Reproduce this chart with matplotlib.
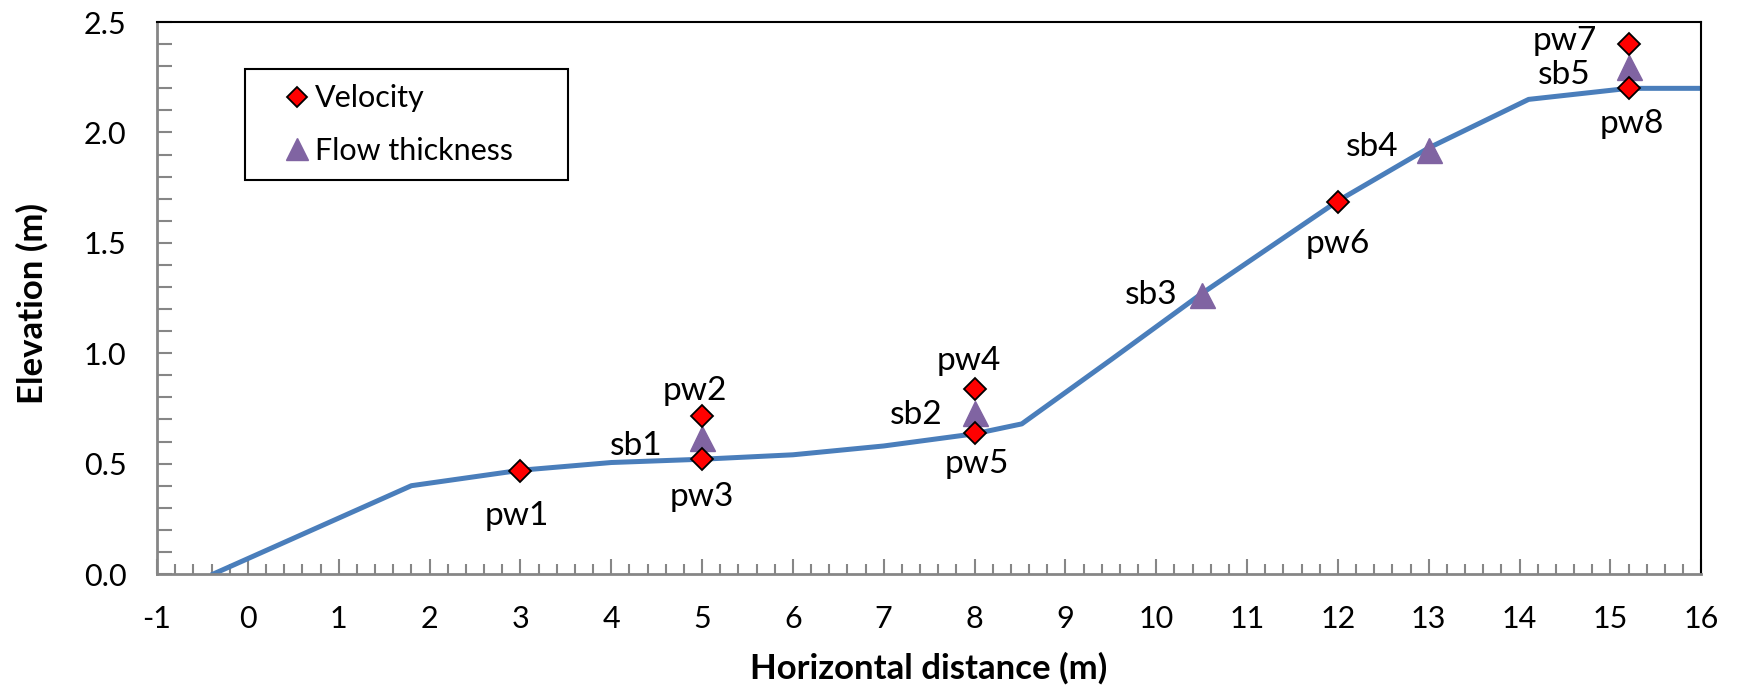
import matplotlib
matplotlib.use('Agg')
import matplotlib.pyplot as plt
from matplotlib.ticker import MultipleLocator, FormatStrFormatter

plt.rcParams['font.family'] = ['Lato', 'DejaVu Sans']
plt.rcParams['axes.unicode_minus'] = False

# ground profile
profile_x = [-0.38, 1.8, 3, 4, 5, 6, 7, 8, 8.52, 9.5, 10.5, 11, 12, 13, 14.1, 15.2, 16]
profile_y = [0.0, 0.40, 0.47, 0.505, 0.52, 0.54, 0.58, 0.635, 0.68, 0.97, 1.27, 1.41, 1.69, 1.93, 2.15, 2.20, 2.20]

# velocity points
vel_names = ['pw1', 'pw2', 'pw3', 'pw4', 'pw5', 'pw6', 'pw7', 'pw8']
vel_x = [3, 5, 5, 8, 8, 12, 15.2, 15.2]
vel_y = [0.467, 0.715, 0.522, 0.836, 0.638, 1.687, 2.40, 2.20]

# flow thickness points
thk_names = ['sb1', 'sb2', 'sb3', 'sb4', 'sb5']
thk_x = [5, 8, 10.5, 13, 15.2]
thk_y = [0.615, 0.73, 1.265, 1.92, 2.295]

# label offsets in pixels
vel_off = [(-4, -45), (-7, 25), (0, -38), (-6, 28), (2, -31), (0, -42), (-64, 3), (3, -36)]
thk_off = [(-66, -8), (-58, -2), (-50, 0), (-57, 3), (-64, -8)]

fig = plt.figure(figsize=(17.37, 6.89), dpi=100)
ax = fig.add_axes([0.0904, 0.1669, 0.889, 0.801])

ax.plot(profile_x, profile_y, color='#4a7ebb', linewidth=3.6, zorder=2)
ax.plot(vel_x, vel_y, linestyle='none', marker='D', markersize=11.5, markerfacecolor='#ff0000',
        markeredgecolor='black', markeredgewidth=1.3, label='Velocity', zorder=4)
ax.plot(thk_x, thk_y, linestyle='none', marker='^', markersize=18, markerfacecolor='#8064a2',
        markeredgecolor='#8064a2', label='Flow thickness', zorder=3)

for name, x, y, off in zip(vel_names, vel_x, vel_y, vel_off):
    ax.annotate(name, (x, y), xytext=off, textcoords='offset pixels', ha='center', va='center', fontsize=24)
for name, x, y, off in zip(thk_names, thk_x, thk_y, thk_off):
    ax.annotate(name, (x, y), xytext=off, textcoords='offset pixels', ha='center', va='center', fontsize=24)

ax.set_xlim(-1, 16)
ax.set_ylim(0, 2.5)
ax.xaxis.set_major_locator(MultipleLocator(1))
ax.xaxis.set_minor_locator(MultipleLocator(0.2))
ax.yaxis.set_major_locator(MultipleLocator(0.5))
ax.yaxis.set_minor_locator(MultipleLocator(0.1))
ax.yaxis.set_major_formatter(FormatStrFormatter('%.1f'))

ax.tick_params(axis='x', which='major', direction='in', length=11, width=1.5, color='#868686', labelsize=22, pad=22)
ax.tick_params(axis='x', which='minor', direction='in', length=7, width=1.5, color='#868686')
ax.tick_params(axis='y', which='both', direction='in', length=11, width=1.5, color='#868686', labelsize=22, pad=22)

for side in ['left', 'bottom']:
    ax.spines[side].set_color('#868686')
    ax.spines[side].set_linewidth(2)
for side in ['top', 'right']:
    ax.spines[side].set_color('black')
    ax.spines[side].set_linewidth(1.5)

ax.set_xlabel('Horizontal distance (m)', fontsize=25, fontweight='bold', va='center')
ax.set_ylabel('Elevation (m)', fontsize=25, fontweight='bold', va='center')
ax.xaxis.set_label_coords(0.5, -0.170)
ax.yaxis.set_label_coords(-0.081, 0.49)

leg = ax.legend(loc='upper left', bbox_to_anchor=(0.057, 0.714, 0.209, 0.201), mode='expand',
                borderaxespad=0, fontsize=22, fancybox=False, edgecolor='black', framealpha=1,
                markerscale=0.87, handlelength=2.4, handletextpad=-0.6, borderpad=0.5, labelspacing=0.8)
leg.get_frame().set_linewidth(1.5)

fig.savefig('out.png', dpi=100)
